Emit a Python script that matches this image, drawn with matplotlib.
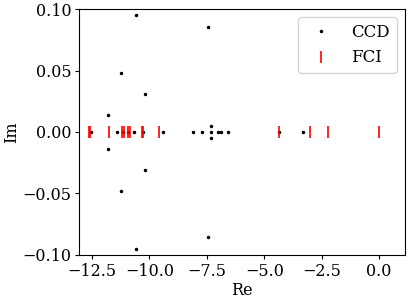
import numpy as np
import matplotlib
matplotlib.use('Agg')
import matplotlib.pyplot as plt

plt.rcParams['font.family'] = ['DejaVu Serif']
plt.rcParams['font.size'] = 11.5
plt.rcParams['xtick.major.size'] = 3.2
plt.rcParams['ytick.major.size'] = 3.2
plt.rcParams['xtick.major.pad'] = 2.5
plt.rcParams['ytick.major.pad'] = 2.5

# CCD eigenvalues (real, imag)
ccd_re = [-12.56, -11.82, -11.82, -11.43, -11.23, -11.23, -11.14, -10.92, -10.67,
          -10.60, -10.60, -10.27, -10.21, -10.21, -9.40, -8.09, -7.72, -7.45, -7.45,
          -7.32, -7.32, -7.32, -7.02, -6.90, -6.60, -4.36, -3.31]
ccd_im = [0.0, 0.014, -0.014, 0.0, 0.048, -0.048, 0.0, 0.0, 0.0,
          0.0955, -0.0955, 0.0, 0.031, -0.031, 0.0, 0.0, 0.0, 0.0855, -0.0855,
          0.005, 0.0, -0.005, 0.0, 0.0, 0.0, 0.0, 0.0]

# FCI eigenvalues (all real)
fci_re = [-12.65, -12.59, -11.78, -11.18, -11.11, -10.92, -10.86, -10.34, -10.27,
          -9.59, -4.36, -3.02, -2.22, 0.0]
fci_im = [0.0] * len(fci_re)

fig = plt.figure(figsize=(4.09, 3.02), dpi=100)
ax = fig.add_axes([0.194, 0.156, 0.796, 0.814])

ax.plot(ccd_re, ccd_im, 'k.', markersize=3, label='CCD')
ax.plot(fci_re, fci_im, 'r|', markersize=9, markeredgewidth=1.2, label='FCI')

ax.set_xlim(-13.05, 1.12)
ax.set_ylim(-0.1, 0.1)
ax.set_xticks([-12.5, -10.0, -7.5, -5.0, -2.5, 0.0])
ax.set_yticks([-0.10, -0.05, 0.00, 0.05, 0.10])
ax.set_xlabel('Re', labelpad=1.5)
ax.set_ylabel('Im', labelpad=1.5)
ax.legend(loc='upper right', fontsize=12)

fig.savefig('out.png', dpi=100)
